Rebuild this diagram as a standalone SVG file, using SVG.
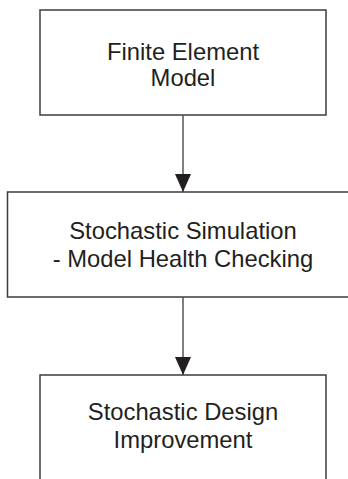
<svg xmlns="http://www.w3.org/2000/svg" width="348" height="479" viewBox="0 0 348 479">
<style>
.box{fill:#fff;stroke:#3c3c3c;stroke-width:1.5}
.lbl{font-family:"Liberation Sans",Arial,sans-serif;font-size:23.8px;fill:#231f20;text-anchor:middle}
.conn{stroke:#4a4a4a;stroke-width:1.4;fill:none;marker-end:url(#arr)}
</style>
<defs>
<marker id="arr" markerUnits="userSpaceOnUse" markerWidth="18" markerHeight="16" refX="18" refY="8" orient="auto" viewBox="0 0 18 16">
<path d="M0,0 L18,8 L0,16 Z" fill="#231f20"/>
</marker>
</defs>
<rect width="348" height="479" fill="#fff"/>
<g id="n1">
<rect class="box" x="40" y="10" width="286" height="105"/>
<text class="lbl" x="183" y="60">Finite Element</text>
<text class="lbl" x="183" y="86">Model</text>
</g>
<g id="n2">
<rect class="box" x="7.5" y="192" width="352" height="105"/>
<text class="lbl" x="183" y="239">Stochastic Simulation</text>
<text class="lbl" x="183" y="267">- Model Health Checking</text>
</g>
<g id="n3">
<rect class="box" x="40" y="375" width="286" height="120"/>
<text class="lbl" x="183" y="420">Stochastic Design</text>
<text class="lbl" x="183" y="448">Improvement</text>
</g>
<g id="connectors">
<line class="conn" x1="183" y1="115" x2="183" y2="192"/>
<line class="conn" x1="183" y1="297" x2="183" y2="375"/>
</g>
</svg>
